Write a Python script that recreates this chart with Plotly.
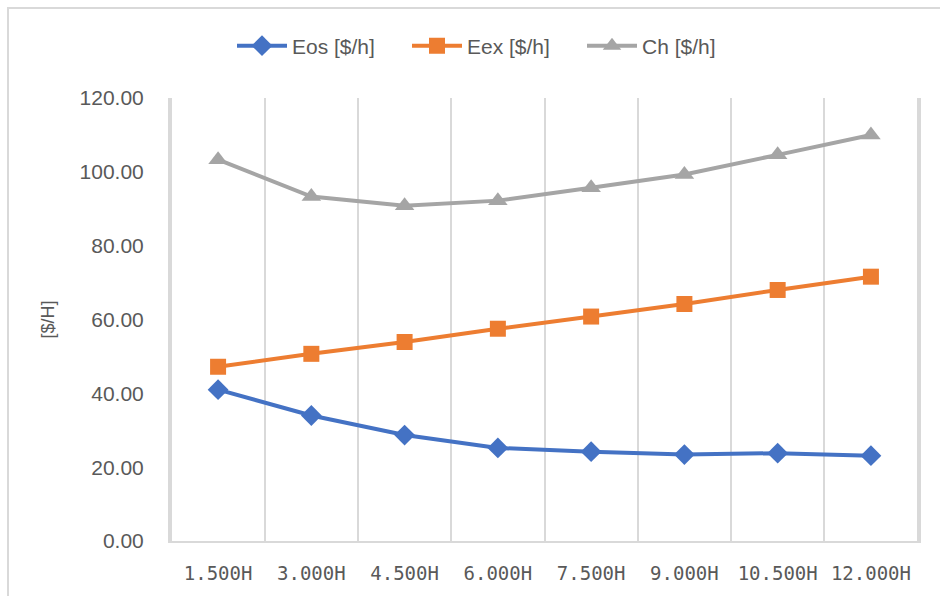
import plotly.graph_objects as go

categories = ["1.500H", "3.000H", "4.500H", "6.000H", "7.500H", "9.000H", "10.500H", "12.000H"]
eos = [41.0, 34.0, 28.7, 25.2, 24.2, 23.4, 23.8, 23.1]
eex = [47.2, 50.7, 53.9, 57.5, 60.8, 64.2, 68.0, 71.6]
ch = [103.3, 93.3, 90.8, 92.2, 95.7, 99.3, 104.6, 110.0]
y_ticks = [0, 20, 40, 60, 80, 100, 120]

TEXT = "#595959"
GRID = "#d9d9d9"

fig = go.Figure()
fig.add_trace(go.Scatter(x=categories, y=eos, name="Eos [$/h]", mode="lines+markers",
                         line=dict(color="#4472C4", width=4),
                         marker=dict(symbol="diamond", size=16, color="#4472C4")))
fig.add_trace(go.Scatter(x=categories, y=eex, name="Eex [$/h]", mode="lines+markers",
                         line=dict(color="#ED7D31", width=4),
                         marker=dict(symbol="square", size=16, color="#ED7D31")))
fig.add_trace(go.Scatter(x=categories, y=ch, name="Ch [$/h]", mode="lines+markers",
                         line=dict(color="#A5A5A5", width=4),
                         marker=dict(symbol="triangle-up", size=17, color="#A5A5A5")))

fig.update_layout(
    width=940, height=596,
    margin=dict(l=170, r=21, t=98, b=55),
    paper_bgcolor="white", plot_bgcolor="white",
    font=dict(family="Liberation Sans, Arial, sans-serif", color=TEXT, size=18),
    showlegend=True,
    legend=dict(orientation="h", xref="container", yref="container",
                x=232 / 940, xanchor="left", y=1 - 46 / 596, yanchor="middle",
                font=dict(size=21, color=TEXT), itemwidth=50,
                entrywidth=110, entrywidthmode="pixels",
                bgcolor="rgba(0,0,0,0)"),
    xaxis=dict(type="category", tickson="boundaries", showgrid=True, automargin=False,
               gridcolor=GRID, gridwidth=2, showline=True, linecolor=GRID, linewidth=2,
               ticks="", ticklabelstandoff=14,
               tickfont=dict(family="DejaVu Sans Mono, monospace", size=19, color=TEXT),
               zeroline=False),
    yaxis=dict(range=[0, 120], tickvals=y_ticks, tickformat=".2f", showgrid=False,
               automargin=False, zeroline=False,
               showline=True, mirror=True, linecolor=GRID, linewidth=2,
               ticks="", ticklabelstandoff=20,
               tickfont=dict(size=21, color=TEXT),
               title=dict(text="[$/H]", font=dict(size=18, color=TEXT), standoff=20)),
    shapes=[dict(type="rect", xref="paper", yref="paper",
                 x0=(8 - 170) / 749, x1=(950 - 170) / 749,
                 y0=(541 - 610) / 443, y1=1 + (98 - 8) / 443,
                 line=dict(color=GRID, width=2), fillcolor="rgba(0,0,0,0)", layer="below")],
)

fig.write_html("out.html", config={"displayModeBar": False},
               post_script="document.body.style.margin='0';")
